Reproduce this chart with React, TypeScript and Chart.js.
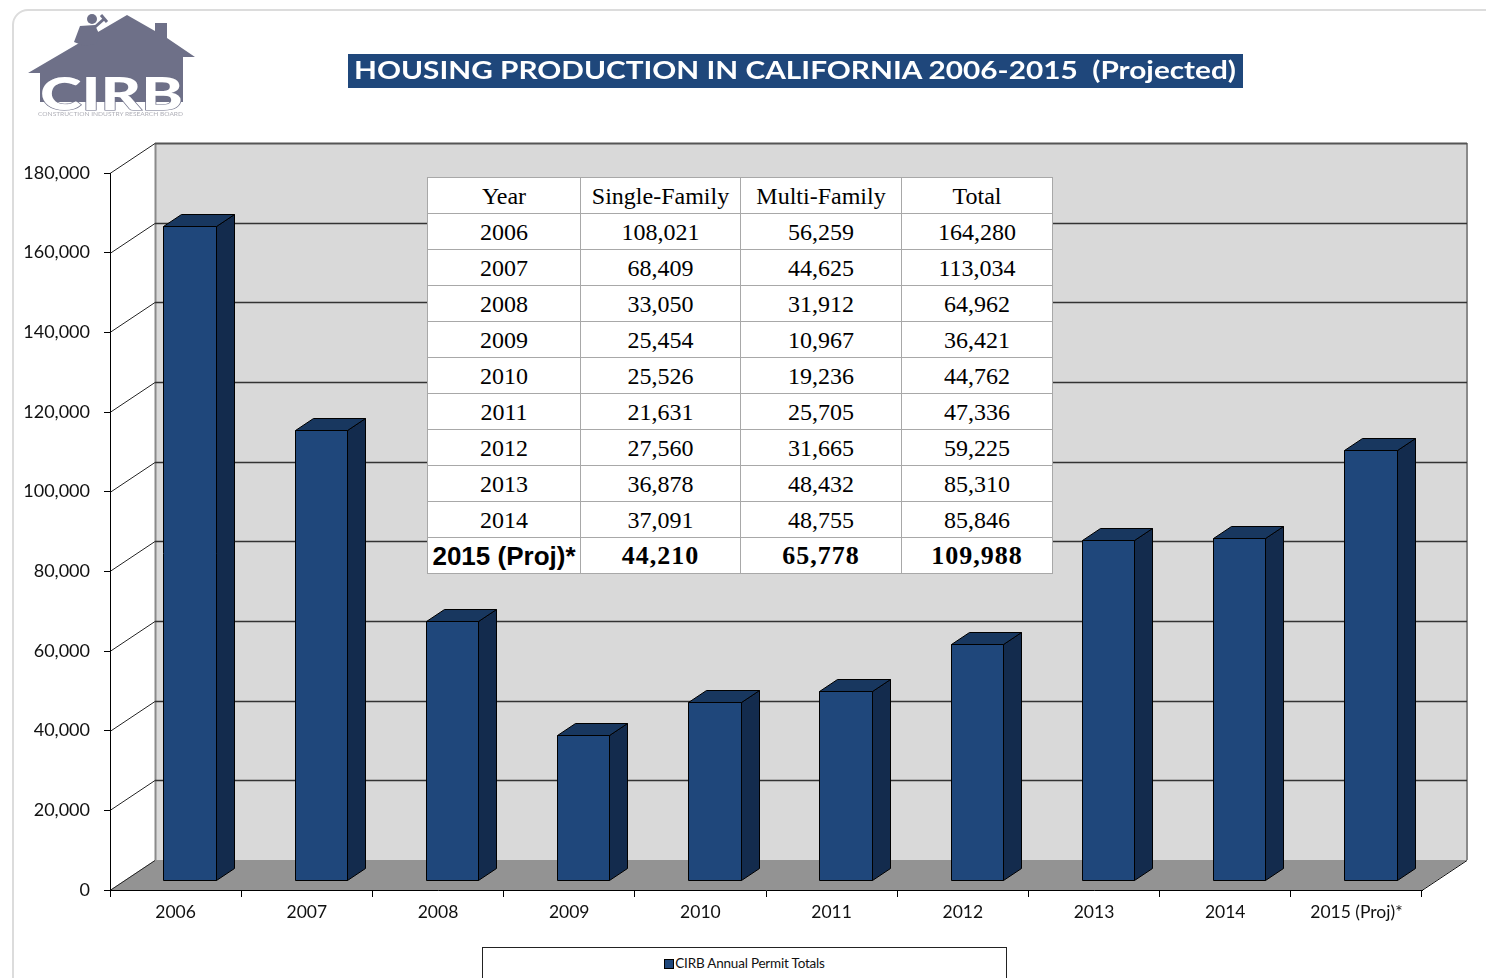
import React, { useEffect, useRef } from "react";
import { Chart, registerables } from "chart.js";

Chart.register(...registerables);

// ---------------- data ----------------
const categories = ["2006", "2007", "2008", "2009", "2010", "2011", "2012", "2013", "2014", "2015 (Proj)*"];
// bar heights
const barValues = [164280, 113034, 64962, 36421, 44762, 47336, 59225, 85310, 85846, 108000];
// table values
const totals = [164280, 113034, 64962, 36421, 44762, 47336, 59225, 85310, 85846, 109988];
const singleFamily = [108021, 68409, 33050, 25454, 25526, 21631, 27560, 36878, 37091, 44210];
const multiFamily = [56259, 44625, 31912, 10967, 19236, 25705, 31665, 48432, 48755, 65778];
const yTicks = [0, 20000, 40000, 60000, 80000, 100000, 120000, 140000, 160000, 180000];
const tableHeaders = ["Year", "Single-Family", "Multi-Family", "Total"];
const seriesLabel = "CIRB Annual Permit Totals";
const chartTitle = "HOUSING PRODUCTION IN CALIFORNIA 2006-2015  (Projected)";

const fmt = (n: number) => n.toLocaleString("en-US");

const BAR_FACE = "#1f477b";
const BAR_SIDE = "#132b4d";
const BAR_TOP = "#18375f";

const depthPlugin = {
  id: "depth3d",
  beforeDraw(chart: any) {
    const { ctx, chartArea: a, scales } = chart;
    const y = scales.y;
    const dx = 45;
    const dy = 30;
    ctx.save();
    // back wall
    ctx.fillStyle = "#d9d9d9";
    ctx.fillRect(a.left + dx, a.top - dy, a.right - a.left, a.bottom - a.top);
    // floor
    ctx.fillStyle = "#939393";
    ctx.beginPath();
    ctx.moveTo(a.left, a.bottom);
    ctx.lineTo(a.left + dx, a.bottom - dy);
    ctx.lineTo(a.right + dx, a.bottom - dy);
    ctx.lineTo(a.right, a.bottom);
    ctx.closePath();
    ctx.fill();
    // back wall side edges
    ctx.strokeStyle = "#8a8a8a";
    ctx.lineWidth = 2;
    ctx.beginPath();
    ctx.moveTo(a.left + dx + 0.5, a.top - dy);
    ctx.lineTo(a.left + dx + 0.5, a.bottom - dy);
    ctx.moveTo(a.right + dx, a.top - dy);
    ctx.lineTo(a.right + dx, a.bottom - dy);
    ctx.stroke();
    // gridlines
    ctx.lineWidth = 1;
    for (const v of yTicks) {
      const py = Math.round(y.getPixelForValue(v)) + 0.5;
      ctx.strokeStyle = "#262626";
      ctx.beginPath();
      ctx.moveTo(a.left, py);
      ctx.lineTo(a.left + dx, py - dy);
      ctx.stroke();
      if (v > 0) {
        const isTop = v === yTicks[yTicks.length - 1];
        ctx.strokeStyle = isTop ? "#555" : "#333";
        ctx.lineWidth = isTop ? 2 : 1.3;
        ctx.beginPath();
        ctx.moveTo(a.left + dx, py - dy);
        ctx.lineTo(a.right + dx, py - dy);
        ctx.stroke();
        ctx.lineWidth = 1;
      }
    }
    // floor right edge
    ctx.strokeStyle = "#111";
    ctx.beginPath();
    ctx.moveTo(a.right, a.bottom + 0.5);
    ctx.lineTo(a.right + dx, a.bottom - dy + 0.5);
    ctx.stroke();
    ctx.restore();
  },
  afterDatasetsDraw(chart: any) {
    const { ctx } = chart;
    const meta = chart.getDatasetMeta(0);
    const bx = 14;
    const by = 10;
    const sx = 18;
    const sy = 12;
    ctx.save();
    ctx.lineWidth = 1;
    ctx.strokeStyle = "#000";
    ctx.lineJoin = "round";
    meta.data.forEach((el: any) => {
      const p = el.getProps(["x", "y", "base", "width"], true);
      const L = Math.round(p.x - p.width / 2 + bx) + 0.5;
      const R = Math.round(p.x + p.width / 2 + bx) + 0.5;
      const T = Math.round(p.y - by) + 0.5;
      const B = Math.round(p.base - by) + 0.5;
      const poly = (pts: number[][], fill: string) => {
        ctx.beginPath();
        ctx.moveTo(pts[0][0], pts[0][1]);
        for (let i = 1; i < pts.length; i++) ctx.lineTo(pts[i][0], pts[i][1]);
        ctx.closePath();
        ctx.fillStyle = fill;
        ctx.fill();
        ctx.stroke();
      };
      poly([[R, T], [R + sx, T - sy], [R + sx, B - sy], [R, B]], BAR_SIDE);
      poly([[L, T], [L + sx, T - sy], [R + sx, T - sy], [R, T]], BAR_TOP);
      poly([[L, T], [R, T], [R, B], [L, B]], BAR_FACE);
    });
    ctx.restore();
  },
};

function Logo() {
  const grey = "#6e7088";
  return (
    <svg width={1486} height={978} style={{ position: "absolute", left: 0, top: 0, pointerEvents: "none" }}>
      <polygon
        points="28,73 127,15 155,31 155,23 167,23 167,38 195,57 183,57 183,102 40,102 40,73"
        fill={grey}
      />
      {/* worker on roof */}
      <circle cx={92} cy={19} r={5} fill={grey} />
      <polygon points="80,26 95,25 100,36 96,44 84,46 74,42" fill={grey} />
      <line x1={95} y1={27} x2={104} y2={19} stroke={grey} strokeWidth={3} />
      <line x1={101} y1={15} x2={107} y2={22} stroke={grey} strokeWidth={3} />
      <text
        x={40}
        y={110}
        textLength={143}
        lengthAdjust="spacingAndGlyphs"
        fontFamily="Lato, 'Open Sans', sans-serif"
        fontWeight={900}
        fontSize={45}
        fill="#ffffff"
        stroke={grey}
        strokeWidth={1.2}
        style={{ paintOrder: "stroke" } as any}
      >
        CIRB
      </text>
      <text
        x={38}
        y={116}
        textLength={145}
        lengthAdjust="spacingAndGlyphs"
        fontFamily="Lato, sans-serif"
        fontSize={5}
        fill="#b0b0b8"
      >
        CONSTRUCTION INDUSTRY RESEARCH BOARD
      </text>
      {/* title */}
      <rect x={348} y={54} width={895} height={34} fill="#1f477b" />
      <text
        x={354}
        y={79}
        textLength={882}
        lengthAdjust="spacingAndGlyphs"
        fontFamily="Lato, 'Open Sans', sans-serif"
        fontWeight={700}
        fontSize={24}
        fill="#ffffff"
        style={{ whiteSpace: "pre" }}
      >
        {chartTitle}
      </text>
    </svg>
  );
}

function DataTable() {
  const cell: React.CSSProperties = {
    border: "1px solid #a8a8a8",
    padding: 0,
    textAlign: "center",
    verticalAlign: "middle",
    lineHeight: "1",
    whiteSpace: "nowrap",
  };
  const last = categories.length - 1;
  return (
    <table
      style={{
        position: "absolute",
        left: 427,
        top: 177,
        width: 625,
        borderCollapse: "collapse",
        tableLayout: "fixed",
        background: "#ffffff",
        fontFamily: "'Liberation Serif', 'Times New Roman', serif",
        fontSize: 24,
        color: "#000",
      }}
    >
      <colgroup>
        <col style={{ width: 153 }} />
        <col style={{ width: 160 }} />
        <col style={{ width: 161 }} />
        <col style={{ width: 151 }} />
      </colgroup>
      <tbody>
        <tr style={{ height: 36 }}>
          {tableHeaders.map((h) => (
            <td key={h} style={cell}>
              {h}
            </td>
          ))}
        </tr>
        {categories.map((c, i) => {
          const bold = i === last;
          const b: React.CSSProperties = bold
            ? { ...cell, fontWeight: 700, fontSize: 26, letterSpacing: 1 }
            : cell;
          return (
            <tr key={c} style={{ height: 36 }}>
              <td
                style={
                  bold
                    ? { ...cell, fontWeight: 700, fontSize: 26, fontFamily: "'Liberation Sans', Arial, sans-serif" }
                    : cell
                }
              >
                {c}
              </td>
              <td style={b}>{fmt(singleFamily[i])}</td>
              <td style={b}>{fmt(multiFamily[i])}</td>
              <td style={b}>{fmt(totals[i])}</td>
            </tr>
          );
        })}
      </tbody>
    </table>
  );
}

function Legend() {
  return (
    <div
      style={{
        position: "absolute",
        left: 482,
        top: 947,
        width: 525,
        height: 40,
        border: "1px solid #222",
        background: "#fff",
        display: "flex",
        justifyContent: "center",
        alignItems: "flex-start",
        paddingTop: 8,
        boxSizing: "border-box",
        fontFamily: "Lato, 'Open Sans', sans-serif",
        fontSize: 13.5,
        color: "#111",
      }}
    >
      <span
        style={{
          display: "inline-block",
          width: 8,
          height: 8,
          background: BAR_FACE,
          border: "1px solid #000",
          marginTop: 3,
          marginRight: 1,
        }}
      />
      <span style={{ lineHeight: "14px", letterSpacing: -0.2 }}>{seriesLabel}</span>
    </div>
  );
}

export default function App() {
  const canvasRef = useRef<HTMLCanvasElement | null>(null);

  useEffect(() => {
    if (!canvasRef.current) return;
    const chart = new Chart(canvasRef.current, {
      type: "bar",
      data: {
        labels: categories,
        datasets: [
          {
            label: seriesLabel,
            data: barValues,
            backgroundColor: "rgba(0,0,0,0)",
            borderWidth: 0,
            barPercentage: 0.4,
            categoryPercentage: 1,
          },
        ],
      },
      options: {
        responsive: false,
        animation: false,
        devicePixelRatio: 1,
        events: [],
        layout: { padding: { left: 0, right: 64, top: 173, bottom: 0 } },
        plugins: {
          legend: { display: false },
          title: { display: false },
          tooltip: { enabled: false },
        },
        scales: {
          x: {
            grid: { offset: true, drawOnChartArea: false, tickLength: 7, color: "#000" },
            border: { color: "#000", width: 1 },
            ticks: {
              color: "#111",
              font: { family: "Lato, 'Open Sans', sans-serif", size: 17.5 },
              padding: 5,
              maxRotation: 0,
              autoSkip: false,
            },
            afterFit: (s: any) => {
              s.height = 88;
            },
          },
          y: {
            min: 0,
            max: 180000,
            grid: { drawOnChartArea: false, tickLength: 6, color: "#000" },
            border: { color: "#000", width: 1 },
            ticks: {
              stepSize: 20000,
              color: "#111",
              padding: 14,
              font: { family: "Lato, 'Open Sans', sans-serif", size: 18 },
              callback: (v: any) => fmt(Number(v)),
            },
            afterFit: (s: any) => {
              s.width = 110;
            },
          },
        },
      },
      plugins: [depthPlugin],
    });
    return () => chart.destroy();
  }, []);

  return (
    <div
      style={{
        position: "absolute",
        left: 0,
        top: 0,
        width: 1486,
        height: 978,
        overflow: "hidden",
        background: "#fff",
      }}
    >
      <div
        style={{
          position: "absolute",
          left: 12,
          top: 9,
          width: 1500,
          height: 1000,
          border: "2px solid #dcdcdc",
          borderTopLeftRadius: 16,
          boxSizing: "border-box",
        }}
      />
      <canvas
        ref={canvasRef}
        width={1486}
        height={978}
        style={{ position: "absolute", left: 0, top: 0, width: 1486, height: 978 }}
      />
      <Logo />
      <DataTable />
      <Legend />
    </div>
  );
}
